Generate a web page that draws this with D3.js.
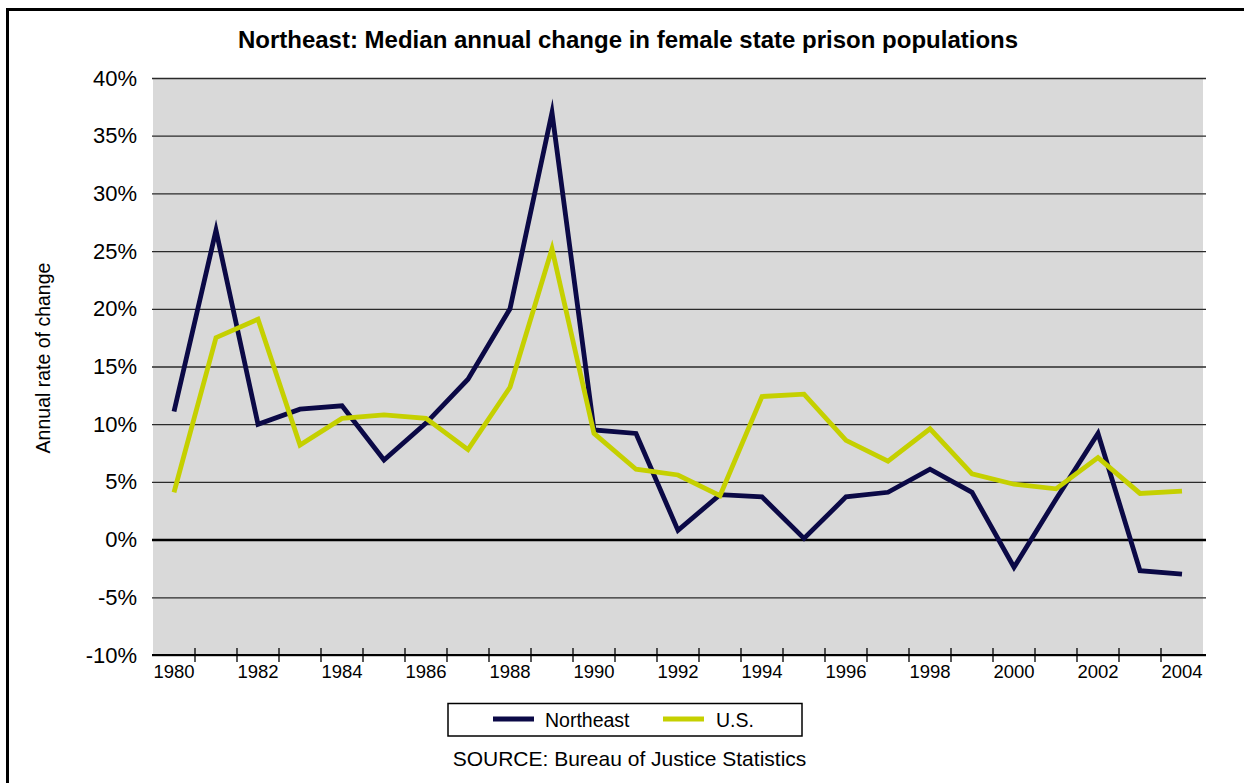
<!DOCTYPE html>
<html>
<head>
<meta charset="utf-8">
<script src="https://cdn.jsdelivr.net/npm/d3@7"></script>
<style>
  html, body { margin: 0; padding: 0; background: #ffffff; }
  svg { display: block; font-family: "Liberation Sans", Arial, sans-serif; }
</style>
</head>
<body>
<svg id="chart" width="1244" height="783"></svg>
<script>
// Years on the horizontal axis
const years = d3.range(1980, 2005);

// Median annual change in female state prison populations (percent)
const northeast = [11.1, 26.8, 10.0, 11.3, 11.6, 6.9, 10.1, 13.9, 20.0, 37.0,
                   9.5, 9.2, 0.8, 3.9, 3.7, 0.1, 3.7, 4.1, 6.1, 4.1,
                   -2.4, 3.5, 9.2, -2.7, -3.0];
const us = [4.1, 17.5, 19.1, 8.2, 10.5, 10.8, 10.5, 7.8, 13.2, 25.2,
            9.2, 6.1, 5.6, 3.8, 12.4, 12.6, 8.6, 6.8, 9.6, 5.7,
            4.8, 4.4, 7.1, 4.0, 4.2];

const yTicks = [-10, -5, 0, 5, 10, 15, 20, 25, 30, 35, 40];
const xLabelYears = years.filter(y => y % 2 === 0);

const seriesNames = ["Northeast", "U.S."];
const seriesColors = ["#0b0946", "#c5d000"];

const svg = d3.select("#chart");

// Outer frame
svg.append("rect")
  .attr("x", 7.5).attr("y", 9.5)
  .attr("width", 1260).attr("height", 800)
  .attr("fill", "none").attr("stroke", "#000").attr("stroke-width", 3);

const plot = { left: 153, right: 1203, top: 78, bottom: 655 };

const x = d3.scaleBand().domain(years).range([plot.left, plot.right]).padding(0);
const y = d3.scaleLinear().domain([-10, 40]).range([plot.bottom, plot.top]);
const cx = yr => x(yr) + x.bandwidth() / 2;

// Plot background
svg.append("rect")
  .attr("x", plot.left).attr("y", plot.top)
  .attr("width", plot.right - plot.left).attr("height", plot.bottom - plot.top)
  .attr("fill", "#d9d9d9");

// Horizontal gridlines
const grid = svg.append("g")
  .attr("transform", `translate(152,0)`)
  .call(d3.axisLeft(y).tickValues(yTicks).tickSize(-(1206 - 152)).tickFormat(""));
grid.select(".domain").remove();
grid.selectAll(".tick line")
  .attr("stroke", d => d === 0 ? "#000" : "#2a2a2a")
  .attr("stroke-width", d => d === 0 ? 2.5 : 1.3);

// Y axis labels
const yAxis = svg.append("g")
  .attr("transform", `translate(152,0)`)
  .call(d3.axisLeft(y).tickValues(yTicks).tickSize(0).tickPadding(15).tickFormat(d => d + "%"));
yAxis.select(".domain").remove();
yAxis.selectAll("text")
  .attr("font-size", 22).attr("fill", "#000")
  .attr("font-family", "Liberation Sans, Arial, sans-serif");

// X axis baseline
svg.append("line")
  .attr("x1", 152).attr("x2", 1206)
  .attr("y1", plot.bottom).attr("y2", plot.bottom)
  .attr("stroke", "#000").attr("stroke-width", 2);

// Tick marks at boundaries between years
svg.append("g").selectAll("line")
  .data(years.slice(1))
  .join("line")
  .attr("x1", d => x(d)).attr("x2", d => x(d))
  .attr("y1", plot.bottom - 7).attr("y2", plot.bottom + 7)
  .attr("stroke", "#000").attr("stroke-width", 1.3);

// X axis labels
const xAxis = svg.append("g")
  .attr("transform", `translate(0,${plot.bottom})`)
  .call(d3.axisBottom(x).tickValues(xLabelYears).tickSize(0).tickPadding(10));
xAxis.select(".domain").remove();
xAxis.selectAll("text")
  .attr("font-size", 18.5).attr("fill", "#000")
  .attr("font-family", "Liberation Sans, Arial, sans-serif");

// Lines
const line = d3.line()
  .x((d, i) => cx(years[i]))
  .y(d => y(d))
  .curve(d3.curveLinear);

[northeast, us].forEach((vals, i) => {
  svg.append("path")
    .datum(vals)
    .attr("d", line)
    .attr("fill", "none")
    .attr("stroke", seriesColors[i])
    .attr("stroke-width", 4.8)
    .attr("stroke-linejoin", "miter")
    .attr("stroke-miterlimit", 10);
});

// Title
svg.append("text")
  .attr("x", 628).attr("y", 48)
  .attr("text-anchor", "middle")
  .attr("font-size", 24).attr("font-weight", "bold")
  .text("Northeast: Median annual change in female state prison populations");

// Y axis title
svg.append("text")
  .attr("transform", "translate(50,358) rotate(-90)")
  .attr("text-anchor", "middle")
  .attr("font-size", 19.5)
  .text("Annual rate of change");

// Legend
const legend = svg.append("g");
legend.append("rect")
  .attr("x", 448).attr("y", 703.5)
  .attr("width", 354).attr("height", 32.5)
  .attr("fill", "#fff").attr("stroke", "#000").attr("stroke-width", 1.5);

const legendItems = [
  { name: seriesNames[0], color: seriesColors[0], x1: 493, x2: 534, tx: 545 },
  { name: seriesNames[1], color: seriesColors[1], x1: 663, x2: 704, tx: 716 }
];
legendItems.forEach(it => {
  legend.append("line")
    .attr("x1", it.x1).attr("x2", it.x2)
    .attr("y1", 719).attr("y2", 719)
    .attr("stroke", it.color).attr("stroke-width", 5);
  legend.append("text")
    .attr("x", it.tx).attr("y", 726.5)
    .attr("font-size", 19.5)
    .text(it.name);
});

// Source note
svg.append("text")
  .attr("x", 629.5).attr("y", 766)
  .attr("text-anchor", "middle")
  .attr("font-size", 21)
  .text("SOURCE: Bureau of Justice Statistics");
</script>
</body>
</html>
